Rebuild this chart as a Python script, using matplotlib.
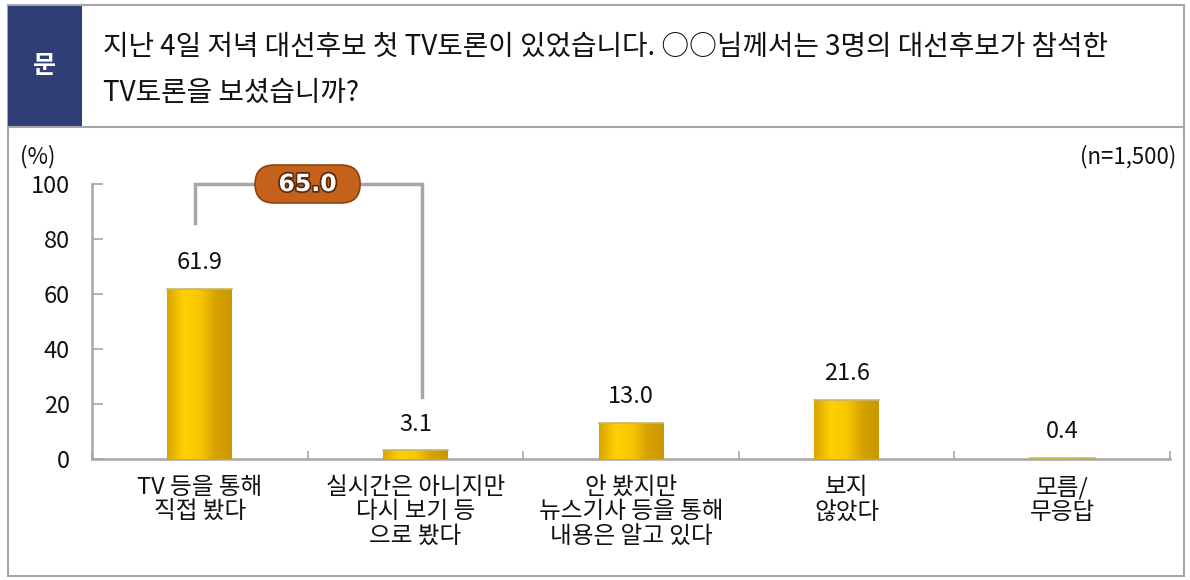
import matplotlib.pyplot as plt
import matplotlib.patheffects as pe
from matplotlib.patches import Rectangle, FancyBboxPatch
from matplotlib.colors import LinearSegmentedColormap
import numpy as np

plt.rcParams['font.family'] = ['Noto Sans CJK KR', 'DejaVu Sans']

question = '지난 4일 저녁 대선후보 첫 TV토론이 있었습니다. ○○님께서는 3명의 대선후보가 참석한\nTV토론을 보셨습니까?'
categories = ['TV 등을 통해\n직접 봤다', '실시간은 아니지만\n다시 보기 등\n으로 봤다',
              '안 봤지만\n뉴스기사 등을 통해\n내용은 알고 있다', '보지\n않았다', '모름/\n무응답']
values = [61.9, 3.1, 13.0, 21.6, 0.4]
combined = 65.0
yticks = [0, 20, 40, 60, 80, 100]

W, H = 1190, 580
fig = plt.figure(figsize=(W / 100, H / 100), dpi=100)

def fx(px):
    return px / W

def fy(py):
    return 1 - py / H

# outer frame and header
fig.patches.append(Rectangle((fx(8), fy(576)), fx(1184) - fx(8), fy(5) - fy(576),
                             transform=fig.transFigure, fill=False, ec='#a6a6a6', lw=1.5))
fig.patches.append(Rectangle((fx(8), fy(126)), fx(82) - fx(8), fy(6) - fy(126),
                             transform=fig.transFigure, fc='#2f3f75', ec='none'))
fig.add_artist(plt.Line2D([fx(8), fx(1184)], [fy(127), fy(127)], transform=fig.transFigure,
                          color='#a6a6a6', lw=1.5))
fig.text(fx(45), fy(66), '문', color='white', fontsize=18, fontweight='bold',
         ha='center', va='center')
fig.text(fx(103), fy(70), question, fontsize=20, ha='left', va='center', linespacing=1.7,
         color='#111111')

ax = fig.add_axes([fx(92), fy(459), fx(1170) - fx(92), fy(184) - fy(459)])
x = np.arange(len(values))
bars = ax.bar(x, values, width=0.3, color='#f5c400', ec='none', zorder=2)

grad = LinearSegmentedColormap.from_list('gold', ['#d9a300', '#ffd000', '#f7c800', '#d6a200', '#c99800'])
g = np.linspace(0, 1, 256).reshape(1, -1)
for b in bars:
    x0, w, h = b.get_x(), b.get_width(), b.get_height()
    if h <= 0:
        continue
    im = ax.imshow(g, cmap=grad, aspect='auto', extent=[x0, x0 + w, 0, h], zorder=3)
    im.set_clip_path(b)
    ax.plot([x0, x0 + w], [h, h], color='#c8b46a', lw=1.2, zorder=4)

for xi, v in zip(x, values):
    ax.annotate(f'{v:.1f}', (xi, v), xytext=(0, 19), textcoords='offset points',
                ha='center', va='center', fontsize=17, color='#111111')

ax.set_xlim(-0.48, len(values) - 0.52)
ax.set_ylim(0, 100)
ax.set_yticks(yticks)
ax.set_yticklabels([str(t) for t in yticks], fontsize=17, color='#111111')
ax.tick_params(axis='y', direction='in', length=8, width=1.2, color='#a6a6a6', pad=16)
ax.set_xticks(x)
ax.set_xticklabels(categories, fontsize=17, color='#111111', linespacing=1.1, va='top')
ax.tick_params(axis='x', length=0, pad=12)
ax.set_xticks(np.arange(len(values) + 1) - 0.5, minor=True)
ax.tick_params(axis='x', which='minor', direction='in', length=6, width=1.2, color='#a6a6a6')
for s in ['top', 'right']:
    ax.spines[s].set_visible(False)
for s in ['left', 'bottom']:
    ax.spines[s].set_color('#a6a6a6')
    ax.spines[s].set_linewidth(1.8)
ax.set_facecolor('none')

# bracket for combined share
ax.plot([x[0] - 0.02, x[0] - 0.02, x[1] + 0.03, x[1] + 0.03], [86, 100, 100, 22.5],
        color='#a6a6a6', lw=2.5, clip_on=False, zorder=5, solid_joinstyle='miter')
px = (x[0] + x[1]) / 2
pw, ph = 0.487, 13.8
pill = FancyBboxPatch((px - pw / 2, 100 - ph / 2), pw, ph,
                      boxstyle='round,pad=0,rounding_size=0.088',
                      mutation_aspect=78.4, fc='#c4621c', ec='#8a420e', lw=1.2,
                      clip_on=False, zorder=6)
ax.add_patch(pill)
ax.text(px, 100, f'{combined:.1f}', ha='center', va='center', fontsize=17, fontweight='bold',
        color='white', zorder=7, family='DejaVu Sans',
        path_effects=[pe.withStroke(linewidth=2.5, foreground='#5a2a08')])

fig.text(fx(38), fy(157), '(%)', fontsize=16, ha='center', va='center', color='#111111')
fig.text(fx(1176), fy(157), '(n=1,500)', fontsize=16, ha='right', va='center', color='#111111')

fig.savefig('out.png', dpi=100)
